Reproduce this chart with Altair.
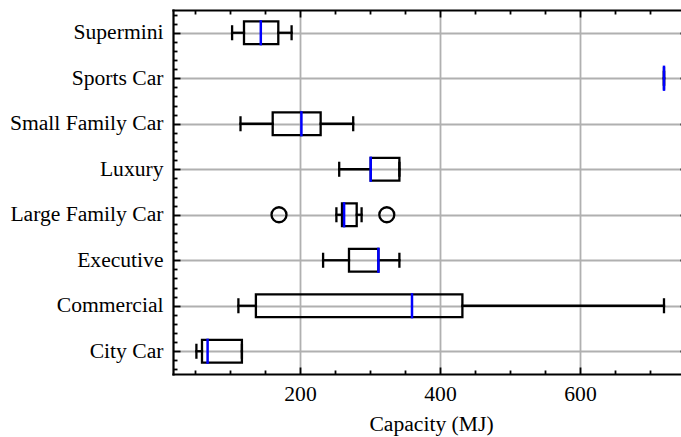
import altair as alt
import pandas as pd

FONT = "Liberation Serif"
FS = 21.6
LW = 2.3

categories = ["City Car", "Commercial", "Executive", "Large Family Car",
              "Luxury", "Small Family Car", "Sports Car", "Supermini"]
positions = [1, 2, 3, 4, 5, 6, 7, 8]
whisker_low = [52, 112, 233, 252, 256, 115, 720, 103]
q1 = [60, 137, 270, 260, 301, 161, 720, 120]
median = [68, 360, 312, 263, 301, 202, 720, 144]
q3 = [117, 432, 312, 281, 342, 229.5, 720, 169]
whisker_high = [117, 720, 342, 288, 342, 276, 720, 188]
outlier_cat = ["Large Family Car", "Large Family Car"]
outlier_val = [170, 324]

x_major = [200, 400, 600]
x_minor = [50, 100, 150, 250, 300, 350, 450, 500, 550, 650, 700]
y_minor = [round(k + j * 0.2, 1) for k in range(0, 9) for j in range(1, 5)
           if 0.5 < k + j * 0.2 < 8.5]

df = pd.DataFrame({
    "cat": categories, "pos": positions, "wlo": whisker_low, "q1": q1,
    "med": median, "q3": q3, "whi": whisker_high,
})
odf = pd.DataFrame({
    "cat": outlier_cat,
    "pos": [positions[categories.index(c)] for c in outlier_cat],
    "val": outlier_val,
})

xs = alt.Scale(domain=[18.57, 744.3], nice=False, zero=False)
ys = alt.Scale(domain=[0.5, 8.5], nice=False, zero=False)

label_expr = "[" + ",".join(f"'{c}'" for c in categories) + "][datum.value - 1]"


def tick_axis(orient, values, size):
    return alt.Axis(orient=orient, values=values, tickSize=size, offset=-size,
                    labels=False, domain=False, grid=False, title=None,
                    ticks=True, tickColor="black", tickWidth=1.8)


x_main = alt.Axis(orient="bottom", values=x_major, grid=True, gridColor="#b0b0b0",
                  gridWidth=1.8, tickSize=0, labelFont=FONT, labelFontSize=FS,
                  labelColor="black", labelPadding=9, labelOverlap=False,
                  labelFlush=False, domain=True, domainColor="black",
                  domainWidth=2.2, domainCap="square", format="d",
                  title="Capacity (MJ)", titleFont=FONT, titleFontSize=FS,
                  titleFontWeight="normal", titleColor="black",
                  titleBaseline="alphabetic", titleY=56, titleX=258,
                  titleAlign="center")
y_main = alt.Axis(orient="left", values=positions, labelExpr=label_expr,
                  grid=True, gridColor="#b0b0b0", gridWidth=1.8, tickSize=0,
                  labelFont=FONT, labelFontSize=FS, labelColor="black",
                  labelPadding=10, labelOverlap=False, labelBaseline="middle",
                  domain=True, domainColor="black", domainWidth=2.2,
                  domainCap="square", title=None)
x_top_domain = alt.Axis(orient="top", tickSize=0, ticks=False, labels=False,
                        grid=False, domain=True, domainColor="black",
                        domainWidth=2.2, domainCap="square", title=None)

base = alt.Chart(df)

whisk_lo = base.mark_rule(color="black", strokeWidth=LW, strokeCap="square").encode(
    x=alt.X("wlo:Q", scale=xs, axis=x_main),
    x2="q1:Q",
    y=alt.Y("pos:Q", scale=ys, axis=y_main),
)
whisk_hi = base.mark_rule(color="black", strokeWidth=LW, strokeCap="square").encode(
    x=alt.X("q3:Q", scale=xs, axis=x_top_domain),
    x2="whi:Q",
    y=alt.Y("pos:Q", scale=ys, axis=tick_axis("left", positions, 7)),
)
box = base.transform_calculate(
    ylo="datum.pos - 0.25", yhi="datum.pos + 0.25"
).mark_rect(fill="white", fillOpacity=0, stroke="black", strokeWidth=LW).encode(
    x=alt.X("q1:Q", scale=xs, axis=tick_axis("bottom", x_major, 7)),
    x2="q3:Q",
    y=alt.Y("ylo:Q", scale=ys, axis=tick_axis("left", y_minor, 4)),
    y2="yhi:Q",
)
cap_lo = base.transform_calculate(
    clo="datum.pos - 0.14", chi="datum.pos + 0.14"
).mark_rule(color="black", strokeWidth=LW, strokeCap="square").encode(
    x=alt.X("wlo:Q", scale=xs, axis=tick_axis("bottom", x_minor, 4)),
    y=alt.Y("clo:Q", scale=ys, axis=tick_axis("right", positions, 1)),
    y2="chi:Q",
)
cap_hi = base.transform_calculate(
    clo="datum.pos - 0.14", chi="datum.pos + 0.14"
).mark_rule(color="black", strokeWidth=LW, strokeCap="square").encode(
    x=alt.X("whi:Q", scale=xs, axis=tick_axis("top", x_major, 7)),
    y=alt.Y("clo:Q", scale=ys, axis=None),
    y2="chi:Q",
)
med = base.transform_calculate(
    mlo="datum.pos - 0.25", mhi="datum.pos + 0.25"
).mark_rule(color="#0000ff", strokeWidth=2.5, strokeCap="square").encode(
    x=alt.X("med:Q", scale=xs, axis=tick_axis("top", x_minor, 4)),
    y=alt.Y("mlo:Q", scale=ys, axis=None),
    y2="mhi:Q",
)
outl = alt.Chart(odf).mark_point(shape="circle", filled=False, color="black",
                                 strokeWidth=LW, size=225, opacity=1).encode(
    x=alt.X("val:Q", scale=xs, axis=None),
    y=alt.Y("pos:Q", scale=ys, axis=None),
)

chart = alt.layer(whisk_lo, whisk_hi, box, cap_lo, cap_hi, med, outl).resolve_axis(
    x="independent", y="independent"
).properties(
    width=508, height=364,
    autosize=alt.AutoSizeParams(type="none"),
    padding={"left": 173, "top": 10, "right": 0, "bottom": 63},
    background="white",
).configure_view(stroke=None)

chart.save("out.html", embed_options={"renderer": "svg", "actions": False})
